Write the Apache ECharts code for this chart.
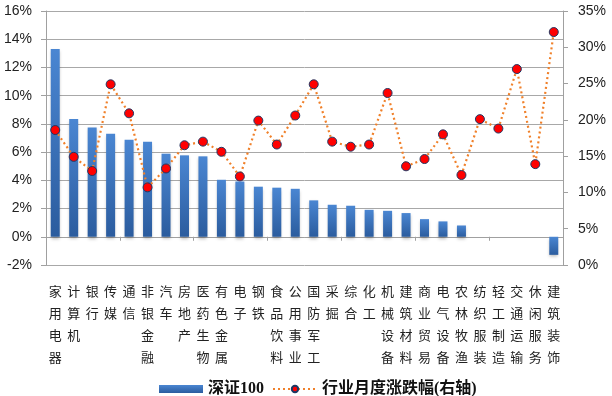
<!DOCTYPE html>
<html><head><meta charset="utf-8">
<script src="https://cdn.jsdelivr.net/npm/echarts@6/dist/echarts.min.js"></script>
<style>html,body{margin:0;padding:0;background:#fff}#c{width:612px;height:396px}</style>
</head><body><div id="c"></div>
<script>
var categories = ['家用电器','计算机','银行','传媒','通信','非银金融','汽车','房地产','医药生物','有色金属','电子','钢铁','食品饮料','公用事业','国防军工','采掘','综合','化工','机械设备','建筑材料','商业贸易','电气设备','农林牧渔','纺织服装','轻工制造','交通运输','休闲服务','建筑装饰'];
var barValues = [13.3,8.35,7.75,7.3,6.88,6.74,5.89,5.77,5.7,4.04,3.92,3.55,3.48,3.4,2.58,2.27,2.2,1.91,1.84,1.68,1.25,1.09,0.8,null,null,null,null,-1.28];
var lineValues = [18.6,14.9,12.95,24.9,20.9,10.7,13.3,16.5,17.0,15.6,12.2,19.9,16.6,20.6,24.9,17.0,16.3,16.6,23.7,13.6,14.6,18.0,12.4,20.1,18.8,27.0,13.9,32.1];
var leftTicks = {min:-2,max:16,interval:2};
var rightTicks = {min:0,max:35,interval:5};
var barName = '深证100';
var lineName = '行业月度涨跌幅(右轴)';

var chart = echarts.init(document.getElementById('c'));
var axisFont = {fontFamily:'Liberation Sans, Arial, sans-serif', fontSize:14, color:'#222'};
chart.setOption({
  animation:false,
  grid:{left:46,right:49,top:11,bottom:131,containLabel:false},
  legend:{
    left:154, top:376, itemWidth:44, itemHeight:8, itemGap:8,
    textStyle:{fontFamily:'Liberation Serif, Noto Sans CJK SC', fontSize:16, fontWeight:'bold', color:'#111'},
    data:[{name:barName, icon:'rect'},{name:lineName}]
  },
  xAxis:[{
    type:'category', data:categories,
    axisLine:{onZero:true, lineStyle:{color:'#a0a0a0', width:1}},
    axisTick:{show:true, length:4, lineStyle:{color:'#a0a0a0'}},
    axisLabel:{show:false}
  },{
    type:'category', data:categories, position:'bottom',
    axisLine:{show:false}, axisTick:{show:false}, splitLine:{show:false},
    axisLabel:{
      interval:0, margin:15, lineHeight:22,
      fontFamily:'Noto Sans CJK SC', fontSize:13, color:'#222',
      formatter:function(v){return v.split('').join('\n');}
    }
  }],
  yAxis:[{
    type:'value', min:leftTicks.min, max:leftTicks.max, interval:leftTicks.interval,
    axisLine:{show:true, lineStyle:{color:'#a0a0a0'}},
    axisTick:{show:true, length:5, lineStyle:{color:'#a0a0a0'}},
    splitLine:{show:true, lineStyle:{color:'#a8a8a8', width:1}},
    axisLabel:Object.assign({margin:14, formatter:function(v){return v+'%';}}, axisFont)
  },{
    type:'value', min:rightTicks.min, max:rightTicks.max, interval:rightTicks.interval,
    position:'right',
    axisLine:{show:true, lineStyle:{color:'#a0a0a0'}},
    axisTick:{show:true, length:5, lineStyle:{color:'#a0a0a0'}},
    splitLine:{show:false},
    axisLabel:Object.assign({margin:15, formatter:function(v){return v+'%';}}, axisFont)
  }],
  series:[{
    name:barName, type:'bar', data:barValues, barWidth:9,
    itemStyle:{
      color:new echarts.graphic.LinearGradient(0,0,0,1,[{offset:0,color:'#4a86d2'},{offset:1,color:'#2b5c9e'}]),
      shadowBlur:3, shadowColor:'rgba(0,0,0,0.25)', shadowOffsetY:2
    }
  },{
    name:lineName, type:'line', yAxisIndex:1, data:lineValues,
    symbol:'circle', symbolSize:9,
    lineStyle:{color:'#f0802a', width:2.2, type:[2,3]},
    itemStyle:{color:'#ff0000', borderColor:'#1f3864', borderWidth:1}
  }]
});
</script></body></html>
